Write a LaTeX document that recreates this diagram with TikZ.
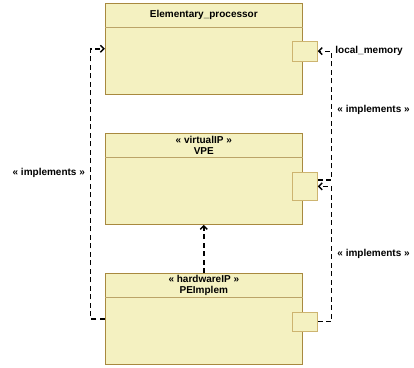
\documentclass[tikz,border=0pt]{standalone}
\usepackage{fontspec}
\setmainfont{Liberation Sans}
\usepackage{tikz}
\usetikzlibrary{arrows.meta,positioning}
\definecolor{clsfill}{HTML}{F4F1C1}
\definecolor{clsdraw}{HTML}{A8893F}
\definecolor{hdrline}{HTML}{BBA468}
\definecolor{portdraw}{HTML}{CDB470}

\begin{document}
\begin{tikzpicture}[
        x=1pt, y=-1pt,
        cls/.style={rectangle, draw=clsdraw, fill=clsfill, line width=0.8pt, minimum width=197pt, minimum height=91pt, inner sep=0pt},
        hdr/.style={rectangle, minimum width=197pt, minimum height=24pt, align=center, inner sep=0pt, font=\bfseries\fontsize{10}{11.5}\selectfont},
        port/.style={rectangle, draw=portdraw, fill=clsfill, line width=0.8pt, minimum width=24.5pt, inner sep=0pt},
        lbl/.style={font=\bfseries\fontsize{10}{11.5}\selectfont, inner sep=1pt},
        dep/.style={line width=1.4pt, dash pattern=on 5pt off 3.5pt, -{Straight Barb[length=3.5pt,width=7pt,line width=1.4pt]}}
    ]
        \useasboundingbox (0,0) rectangle (414,367);

        % classes
        \node[cls] (ep) at (203.8,48.8) {};
        \node[hdr, below=0pt of ep.north] (ep-h) {Elementary\_processor};
        \node[cls, below=38.4pt of ep] (vpe) {};
        \node[hdr, below=0pt of vpe.north] (vpe-h) {« virtualIP »\\VPE};
        \node[cls, below=48.3pt of vpe] (pe) {};
        \node[hdr, below=0pt of pe.north] (pe-h) {« hardwareIP »\\PEImplem};

        \draw[hdrline, line width=0.8pt] (ep-h.south west) -- (ep-h.south east);
        \draw[hdrline, line width=0.8pt] (vpe-h.south west) -- (vpe-h.south east);
        \draw[hdrline, line width=0.8pt] (pe-h.south west) -- (pe-h.south east);

        % ports
        \node[port, minimum height=19.7pt] (p1) at ([xshift=2.4pt,yshift=-2.4pt]ep.east) {};
        \node[port, minimum height=28.7pt] (p2) at ([xshift=2.4pt,yshift=-7.4pt]vpe.east) {};
        \node[port, minimum height=19pt] (p3) at ([xshift=2.4pt,yshift=-2.4pt]pe.east) {};

        % dependencies
        \draw[dep] (pe.west) -- ++(-14.3,0) |- node[lbl, pos=0.27, left=4pt] {« implements »} (ep.west);
        \draw[dep] (pe.north) -- (vpe.south);
        \draw[dep] ([yshift=6.6pt]p2.east) -- ++(14,0) |- node[lbl, pos=0.27, right=4pt] {« implements »} node[lbl, pos=0.5, right=2pt] {local\_memory} (p1.east);
        \draw[dep] (p3.east) -- ++(14,0) |- node[lbl, pos=0.25, right=4pt] {« implements »} (p2.east);
    \end{tikzpicture}
\end{document}
